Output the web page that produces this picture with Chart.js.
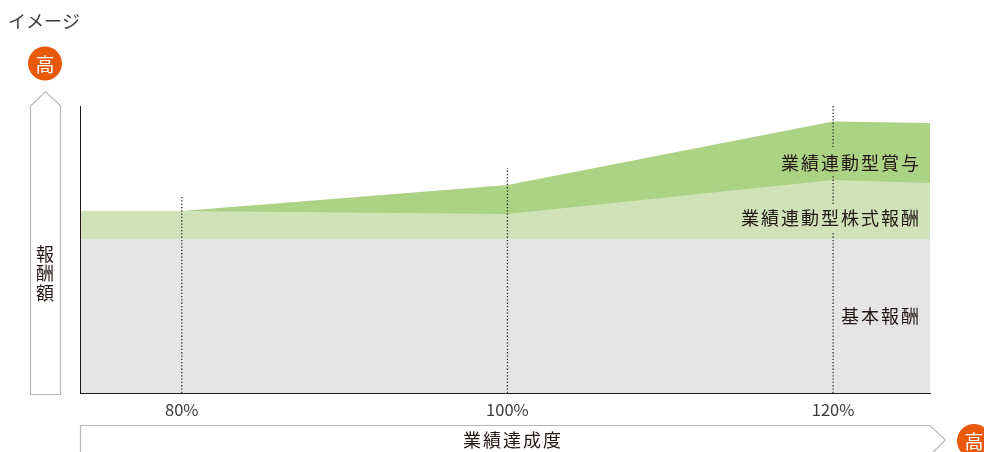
<!DOCTYPE html>
<html lang="ja">
<head>
<meta charset="utf-8">
<title>報酬イメージ</title>
<script src="https://cdn.jsdelivr.net/npm/chart.js@4.4.0/dist/chart.umd.min.js"></script>
<style>
  html, body { margin: 0; padding: 0; background: #fff; overflow: hidden; }
  canvas { display: block; }
</style>
</head>
<body>
<canvas id="payChart" width="984" height="452"></canvas>
<script>
// 業績達成度(%)ごとの報酬額(積み上げ後の上端、目盛りなしの相対値)
const achievement = [73.75, 80, 100, 120, 125.95];
const basePay = [154, 154, 154, 154, 154];
const stockPay = [182, 182, 179, 213, 210];
const bonusPay = [182, 182, 208, 271.5, 270];

const tickValues = [80, 100, 120];

// 点線(達成度ごと)。120%は文字と重なる部分を null で切る
const guide80 = [[80, 0], [80, 197]];
const guide100 = [[100, 0], [100, 225]];
const guide120 = [[120, 0], [120, 160], [120, null], [120, 189], [120, 217], [120, null], [120, 246], [120, 287]];

const seriesLabels = [
  { text: '業績連動型賞与', right: 919, y: 163.5 },
  { text: '業績連動型株式報酬', right: 919, y: 218.5 },
  { text: '基本報酬', right: 919, y: 316.5 }
];

const TEXT_COLOR = '#3e3a39';
const LABEL_COLOR = '#231815';
const ORANGE = '#e8590c';
const ARROW_GRAY = '#b8b8b8';
const FONT = '"Noto Sans CJK JP", "Noto Sans", sans-serif';

function toPoints(values) {
  return values.map((v, i) => ({ x: achievement[i], y: v }));
}

function toGuide(points) {
  return {
    type: 'line',
    data: points.map(p => ({ x: p[0], y: p[1] })),
    borderColor: '#2f2c2b',
    borderWidth: 1.3,
    borderDash: [1.3, 2],
    pointRadius: 0,
    fill: false,
    spanGaps: false,
    order: 0
  };
}

function area(values, color, order) {
  return {
    type: 'line',
    data: toPoints(values),
    borderWidth: 0,
    borderColor: color,
    backgroundColor: color,
    pointRadius: 0,
    tension: 0,
    fill: 'origin',
    order: order
  };
}

function badge(ctx, x, y) {
  ctx.fillStyle = ORANGE;
  ctx.beginPath();
  ctx.arc(x, y, 17, 0, Math.PI * 2);
  ctx.fill();
  ctx.fillStyle = '#fff';
  ctx.font = '19px ' + FONT;
  ctx.textAlign = 'center';
  ctx.textBaseline = 'middle';
  ctx.fillText('高', x, y + 1);
}

// 軸の矢印、バッジ、系列名など Chart.js の外側の飾りを描く
const decorations = {
  id: 'decorations',
  afterDatasetsDraw(chart) {
    const ctx = chart.ctx;
    ctx.save();

    ctx.strokeStyle = ARROW_GRAY;
    ctx.lineWidth = 1.2;
    ctx.beginPath();
    ctx.moveTo(30.5, 394.5);
    ctx.lineTo(30.5, 106);
    ctx.lineTo(45.5, 91.5);
    ctx.lineTo(60.5, 106);
    ctx.lineTo(60.5, 394.5);
    ctx.closePath();
    ctx.stroke();

    ctx.beginPath();
    ctx.moveTo(80.5, 460);
    ctx.lineTo(80.5, 425.5);
    ctx.lineTo(930, 425.5);
    ctx.lineTo(945.5, 440);
    ctx.lineTo(930, 455);
    ctx.stroke();

    badge(ctx, 45, 63.5);
    badge(ctx, 974, 441);

    ctx.fillStyle = TEXT_COLOR;
    ctx.textBaseline = 'middle';

    ctx.font = '18px ' + FONT;
    ctx.letterSpacing = '0px';
    ctx.textAlign = 'left';
    ctx.fillText('イメージ', 8, 21);

    ctx.fillStyle = LABEL_COLOR;
    ctx.font = '18px ' + FONT;
    ctx.letterSpacing = '2px';
    ctx.textAlign = 'right';
    seriesLabels.forEach(l => ctx.fillText(l.text, l.right + 2, l.y));

    ctx.textAlign = 'center';
    ctx.fillText('業績達成度', 513, 440.5);

    ctx.letterSpacing = '0px';
    ['報', '酬', '額'].forEach((ch, i) => ctx.fillText(ch, 45, 254 + i * 19.6));

    ctx.restore();
  }
};

new Chart(document.getElementById('payChart'), {
  data: {
    datasets: [
      toGuide(guide80),
      toGuide(guide100),
      toGuide(guide120),
      area(basePay, '#e5e5e5', 1),
      area(stockPay, '#d0e3b8', 2),
      area(bonusPay, '#acd284', 3)
    ]
  },
  options: {
    responsive: false,
    animation: false,
    layout: { padding: { left: 80, right: 54, top: 106, bottom: 0 } },
    plugins: { legend: { display: false }, tooltip: { enabled: false } },
    scales: {
      x: {
        type: 'linear',
        min: achievement[0],
        max: achievement[achievement.length - 1],
        afterBuildTicks: scale => { scale.ticks = tickValues.map(v => ({ value: v })); },
        afterFit: scale => { scale.height = 59; },
        grid: { drawOnChartArea: false, drawTicks: false },
        border: { color: '#231815', width: 1, z: 1 },
        ticks: {
          maxRotation: 0,
          autoSkip: false,
          padding: 7,
          color: TEXT_COLOR,
          font: { family: FONT, size: 16.5 },
          callback: v => v + '%'
        }
      },
      y: {
        type: 'linear',
        min: 0,
        max: 287,
        afterFit: scale => { scale.width = 0; },
        grid: { drawOnChartArea: false, drawTicks: false },
        border: { color: '#231815', width: 1, z: 1 },
        ticks: { display: false }
      }
    }
  },
  plugins: [decorations]
});
</script>
</body>
</html>
